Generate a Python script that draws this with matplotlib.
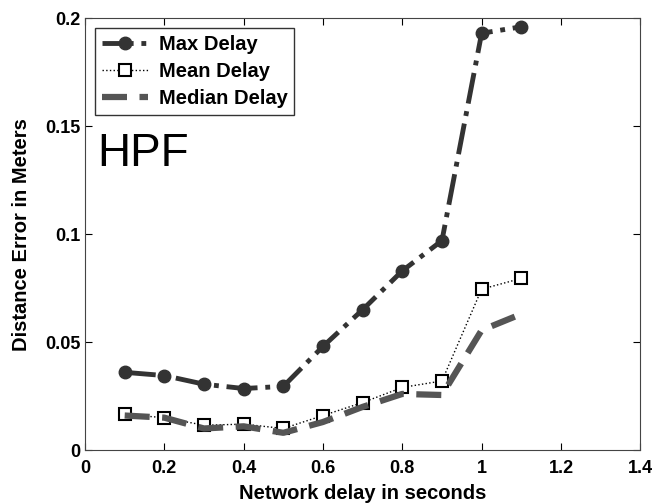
import matplotlib

matplotlib.use("Agg")
import matplotlib.pyplot as plt

plt.rcParams["font.family"] = ["Liberation Sans", "DejaVu Sans"]

delay = [0.1, 0.2, 0.3, 0.4, 0.5, 0.6, 0.7, 0.8, 0.9, 1.0, 1.1]
max_delay = [0.036, 0.0345, 0.0305, 0.0285, 0.0295, 0.048, 0.065, 0.083, 0.097, 0.193, 0.196]
mean_delay = [0.0165, 0.015, 0.0115, 0.012, 0.010, 0.016, 0.022, 0.029, 0.032, 0.0745, 0.0795]
median_delay = [0.016, 0.015, 0.010, 0.011, 0.008, 0.013, 0.020, 0.026, 0.0255, 0.0555, 0.063]

fig = plt.figure(figsize=(6.54, 5.04), dpi=100)
ax = fig.add_axes([0.130, 0.107, 0.849, 0.857])

ax.plot(delay, max_delay, color="#333333", ls="-.", lw=3.5, marker="o", ms=9,
        label="Max Delay")
ax.plot(delay, mean_delay, color="black", ls=":", lw=1, marker="s", ms=8,
        mfc="white", mec="black", mew=1.5, label="Mean Delay")
ax.plot(delay, median_delay, color="#555555", ls=(0, (4, 2)), lw=4.5,
        label="Median Delay")

ax.set_xlim(0, 1.4)
ax.set_ylim(0, 0.2)
ax.set_xticks([0, 0.2, 0.4, 0.6, 0.8, 1, 1.2, 1.4])
ax.set_xticklabels(["0", "0.2", "0.4", "0.6", "0.8", "1", "1.2", "1.4"])
ax.set_yticks([0, 0.05, 0.1, 0.15, 0.2])
ax.set_yticklabels(["0", "0.05", "0.1", "0.15", "0.2"])
ax.tick_params(direction="in", top=True, right=True, labelsize=13, length=5)
ax.tick_params(axis="x", pad=7)
for lab in ax.get_xticklabels() + ax.get_yticklabels():
    lab.set_fontweight("bold")
for s in ax.spines.values():
    s.set_color("#444444")

ax.set_xlabel("Network delay in seconds", fontsize=14.5, fontweight="bold", labelpad=5)
ax.set_ylabel("Distance Error in Meters", fontsize=14.5, fontweight="bold", labelpad=10)

ax.text(0.03, 0.1475, "HPF", fontsize=33, va="top", ha="left")

leg = ax.legend(loc="upper left", prop={"weight": "bold", "size": 14.5},
                fancybox=False, edgecolor="black", handlelength=2.3,
                handletextpad=0.5, borderaxespad=0.5, labelspacing=0.4,
                borderpad=0.35)
leg.get_frame().set_linewidth(1)

fig.savefig("out.png", dpi=100)
